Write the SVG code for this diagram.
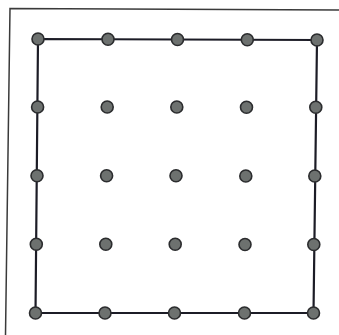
<svg xmlns="http://www.w3.org/2000/svg" width="339" height="335" viewBox="0 0 339 335">
<style>
.dot{fill:#6d716f;stroke:#2b2c2e;stroke-width:1.6}
.edge{fill:none;stroke:#1c1c26;stroke-width:2.2;stroke-linejoin:round}
.frame{fill:none;stroke:#3a3a3a;stroke-width:1.5}
</style>
<rect width="339" height="335" fill="#ffffff"/>
<polyline class="frame" points="5.5,335 10,8.5 339,10"/>
<g id="connectors">
<path class="edge" d="M38,39 L317,40 L313.5,313 L35.5,313 Z"/>
</g>
<g id="row0">
<g id="n00"><circle class="dot" cx="38" cy="39" r="6"/></g>
<g id="n01"><circle class="dot" cx="108" cy="39.2" r="6"/></g>
<g id="n02"><circle class="dot" cx="177.5" cy="39.5" r="6"/></g>
<g id="n03"><circle class="dot" cx="247.3" cy="39.8" r="6"/></g>
<g id="n04"><circle class="dot" cx="317" cy="40" r="6"/></g>
</g>
<g id="row1">
<g id="n10"><circle class="dot" cx="37.6" cy="107" r="6"/></g>
<g id="n11"><circle class="dot" cx="107.2" cy="107" r="6"/></g>
<g id="n12"><circle class="dot" cx="176.8" cy="107" r="6"/></g>
<g id="n13"><circle class="dot" cx="246.5" cy="107.2" r="6"/></g>
<g id="n14"><circle class="dot" cx="315.8" cy="107.3" r="6"/></g>
</g>
<g id="row2">
<g id="n20"><circle class="dot" cx="37" cy="175.8" r="6"/></g>
<g id="n21"><circle class="dot" cx="106.6" cy="175.8" r="6"/></g>
<g id="n22"><circle class="dot" cx="176" cy="175.8" r="6"/></g>
<g id="n23"><circle class="dot" cx="245.8" cy="176" r="6"/></g>
<g id="n24"><circle class="dot" cx="314.8" cy="176" r="6"/></g>
</g>
<g id="row3">
<g id="n30"><circle class="dot" cx="36.3" cy="244.3" r="6"/></g>
<g id="n31"><circle class="dot" cx="105.8" cy="244.3" r="6"/></g>
<g id="n32"><circle class="dot" cx="175.2" cy="244.3" r="6"/></g>
<g id="n33"><circle class="dot" cx="245" cy="244.5" r="6"/></g>
<g id="n34"><circle class="dot" cx="313.8" cy="244.5" r="6"/></g>
</g>
<g id="row4">
<g id="n40"><circle class="dot" cx="35.5" cy="313" r="6"/></g>
<g id="n41"><circle class="dot" cx="105" cy="313" r="6"/></g>
<g id="n42"><circle class="dot" cx="174.5" cy="313" r="6"/></g>
<g id="n43"><circle class="dot" cx="244.5" cy="313" r="6"/></g>
<g id="n44"><circle class="dot" cx="313.5" cy="313" r="6"/></g>
</g>
</svg>
